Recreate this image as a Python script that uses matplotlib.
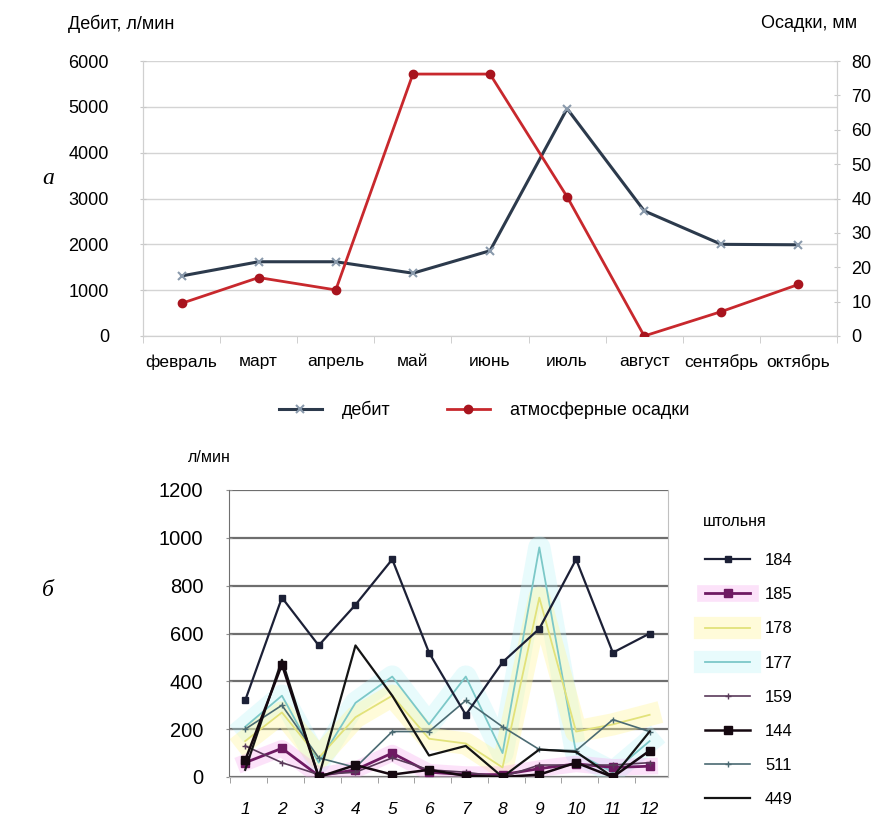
import numpy as np
import matplotlib
matplotlib.use('Agg')
import matplotlib.pyplot as plt
from matplotlib.ticker import MultipleLocator, FixedLocator

plt.rcParams['font.family'] = ['Liberation Sans', 'DejaVu Sans']

# top chart data
months = ['февраль', 'март', 'апрель', 'май', 'июнь', 'июль', 'август', 'сентябрь', 'октябрь']
debit = [1310, 1620, 1620, 1370, 1860, 4960, 2730, 2000, 1990]
rain = [9.5, 17, 13.4, 76.2, 76.2, 40.5, 0, 7.1, 15]

# bottom chart data
points = list(range(1, 13))
s184 = [320, 750, 550, 720, 910, 520, 260, 480, 620, 910, 520, 600]
s185 = [60, 120, 5, 30, 100, 20, 10, 10, 35, 55, 40, 45]
s178 = [150, 270, 80, 250, 340, 160, 140, 40, 750, 190, 220, 260]
s177 = [210, 340, 60, 310, 420, 220, 420, 100, 960, 100, 20, 150]
s159 = [130, 60, 10, 20, 80, 30, 20, 0, 50, 50, 50, 60]
s144 = [70, 470, 0, 50, 10, 30, 5, 0, 10, 60, 0, 110]
s511 = [200, 300, 80, 40, 190, 190, 320, 210, 115, 110, 240, 190]
s449 = [30, 490, 0, 550, 340, 90, 130, 0, 115, 105, 0, 190]

W, H = 875, 816
fig = plt.figure(figsize=(W / 100, H / 100), dpi=100)

def box(x0, y0, x1, y1):
    return [x0 / W, 1 - y1 / H, (x1 - x0) / W, (y1 - y0) / H]

# ---------- a ----------
ax = fig.add_axes(box(143, 61, 837, 336))
ax2 = ax.twinx()
x = np.arange(len(months))
ax.plot(x, debit, color='#2c3a4c', lw=2.2, marker='x', ms=6, mew=1.5,
        mec='#8a9aac', label='дебит', zorder=3)
ax2.plot(x, rain, color='#c8282d', lw=2, marker='o', ms=6,
         mfc='#a8141e', mec='#a8141e', label='атмосферные осадки', zorder=3)
ax.set_xlim(-0.5, 8.5)
ax.set_ylim(0, 6000)
ax2.set_ylim(0, 80)
ax.yaxis.set_major_locator(MultipleLocator(1000))
ax2.yaxis.set_major_locator(MultipleLocator(10))
ax.grid(axis='y', color='#d4d4d4', lw=1)
ax.set_xticks(x)
ax.set_xticklabels(months, fontsize=12.5)
ax.xaxis.set_minor_locator(FixedLocator(np.arange(-0.5, 9, 1)))
ax.tick_params(axis='x', which='major', length=0, pad=13)
ax.tick_params(axis='x', which='minor', length=5, color='#c8c8c8')
ax.tick_params(axis='y', length=5, color='#c8c8c8', labelsize=13, pad=22, direction='inout')
ax2.tick_params(axis='y', length=5, color='#c8c8c8', labelsize=13, pad=8, direction='inout')
for a in (ax, ax2):
    a.spines['top'].set_visible(False)
    for s in ('left', 'right', 'bottom'):
        a.spines[s].set_color('#d0d0d0')

h1, l1 = ax.get_legend_handles_labels()
h2, l2 = ax2.get_legend_handles_labels()
fig.legend(h1 + h2, l1 + l2, loc='center', bbox_to_anchor=(484 / W, 1 - 410 / H),
           ncol=2, frameon=False, fontsize=13, handlelength=2.4, columnspacing=3.1,
           handletextpad=1.1)

fig.text(68 / W, 1 - 24 / H, 'Дебит, л/мин', fontsize=13, va='center')
fig.text(857 / W, 1 - 24 / H, 'Осадки, мм', fontsize=13, va='center', ha='right')
fig.text(42 / W, 1 - 178 / H, 'а', fontsize=17, style='italic', family='Liberation Serif', va='center')

# ---------- b ----------
bx = fig.add_axes(box(229, 490, 668, 777))
# soft glow under the light series
g177, = bx.plot(points, s177, color='#b4f2f8', lw=16, alpha=0.3, zorder=1)
g178, = bx.plot(points, s178, color='#fff7a0', lw=16, alpha=0.4, zorder=1)
g185, = bx.plot(points, s185, color='#f6a0ee', lw=12, alpha=0.3, zorder=1)

l177, = bx.plot(points, s177, color='#7cc8c8', lw=1.3, zorder=3)
l178, = bx.plot(points, s178, color='#e2e27a', lw=1.3, zorder=3)
l185, = bx.plot(points, s185, color='#6e1a62', lw=2, marker='s', ms=6, zorder=4)
l184, = bx.plot(points, s184, color='#1c2036', lw=1.6, marker='s', ms=5, zorder=5)
l159, = bx.plot(points, s159, color='#5a3a5a', lw=1.2, marker='+', ms=5, zorder=4)
l144, = bx.plot(points, s144, color='#150810', lw=1.8, marker='s', ms=6, zorder=5)
l511, = bx.plot(points, s511, color='#4a6a72', lw=1.2, marker='+', ms=5, zorder=4)
l449, = bx.plot(points, s449, color='#141414', lw=1.6, zorder=4)

bx.set_xlim(0.56, 12.5)
bx.set_ylim(0, 1200)
bx.yaxis.set_major_locator(MultipleLocator(200))
bx.grid(axis='y', color='#6e6e6e', lw=1.6)
bx.set_axisbelow(True)
bx.set_xticks(points)
bx.set_xticklabels([str(p) for p in points], fontsize=12.5, style='italic')
bx.xaxis.set_minor_locator(FixedLocator(np.arange(0.6, 13, 1)))
bx.tick_params(axis='x', which='major', length=0, pad=18)
bx.tick_params(axis='x', which='minor', length=4, color='#909090')
bx.tick_params(axis='y', length=5, color='#909090', labelsize=14.5, pad=16, direction='inout')
bx.spines['top'].set_visible(False)
bx.spines['right'].set_color('#c0c0c0')
bx.spines['bottom'].set_color('#c0c0c0')
bx.spines['left'].set_color('#707070')

handles = [l184, (g185, l185), (g178, l178), (g177, l177), l159, l144, l511, l449]
labels = ['184', '185', '178', '177', '159', '144', '511', '449']
fig.legend(handles, labels, loc='upper left', bbox_to_anchor=(690 / W, 1 - 538 / H),
           frameon=False, fontsize=12, handlelength=2.7, handletextpad=0.9,
           labelspacing=1.15)
fig.text(703 / W, 1 - 521 / H, 'штольня', fontsize=11.5, va='center')
fig.text(188 / W, 1 - 458 / H, 'л/мин', fontsize=11.5, va='center')
fig.text(42 / W, 1 - 590 / H, 'б', fontsize=17, style='italic', family='Liberation Serif', va='center')

fig.savefig('out.png', dpi=100)
